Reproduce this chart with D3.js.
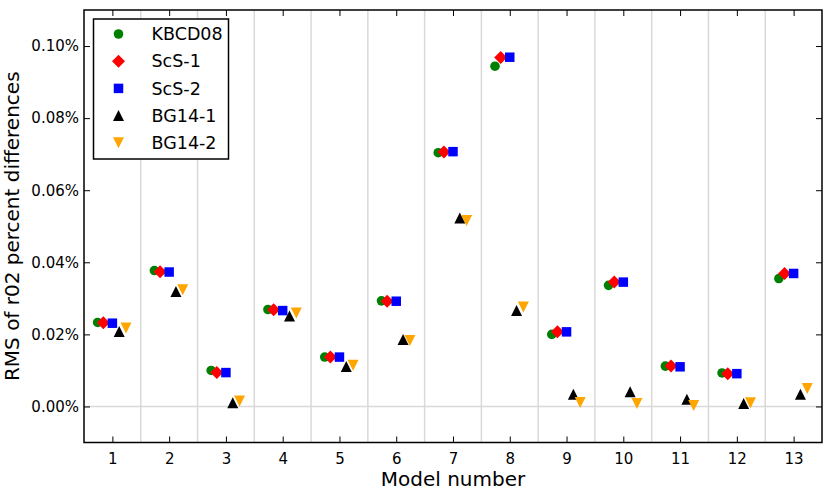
<!DOCTYPE html>
<html>
<head>
<meta charset="utf-8">
<script src="https://cdn.jsdelivr.net/npm/d3@7"></script>
<style>
  body { margin: 0; background: #fff; }
  text { font-family: "DejaVu Sans", sans-serif; }
</style>
</head>
<body>
<div id="chart"></div>
<script>
// Model numbers on the x axis
const models = [1, 2, 3, 4, 5, 6, 7, 8, 9, 10, 11, 12, 13];

// RMS of r02 percent differences (in %)
const kbcd08 = [0.0233, 0.0377, 0.0100, 0.0269, 0.0137, 0.0293, 0.0704, 0.0944, 0.0200, 0.0336, 0.0112, 0.0093, 0.0355];
const scs1   = [0.0232, 0.0374, 0.0094, 0.0268, 0.0137, 0.0292, 0.0706, 0.0968, 0.0207, 0.0345, 0.0112, 0.0091, 0.0369];
const scs2   = [0.0231, 0.0373, 0.0094, 0.0266, 0.0137, 0.0292, 0.0707, 0.0969, 0.0207, 0.0345, 0.0110, 0.0091, 0.0369];
const bg141  = [0.0208, 0.0319, 0.0010, 0.0251, 0.0111, 0.0186, 0.0523, 0.0266, 0.0034, 0.0041, 0.0020, 0.0008, 0.0034];
const bg142  = [0.0218, 0.0324, 0.0015, 0.0259, 0.0114, 0.0183, 0.0516, 0.0276, 0.0011, 0.0008, 0.0003, 0.0010, 0.0050];

const yTicks = [0.00, 0.02, 0.04, 0.06, 0.08, 0.10];

const series = [
  { name: 'KBCD08', values: kbcd08, color: 'green',  shape: 'circle',   offset: -0.26 },
  { name: 'ScS-1',  values: scs1,   color: 'red',    shape: 'diamond',  offset: -0.16 },
  { name: 'ScS-2',  values: scs2,   color: 'blue',   shape: 'square',   offset: 0 },
  { name: 'BG14-1', values: bg141,  color: 'black',  shape: 'triUp',    offset: 0.12 },
  { name: 'BG14-2', values: bg142,  color: 'orange', shape: 'triDown',  offset: 0.24 }
];

const width = 830, height = 492;
const margin = { top: 10, right: 8, bottom: 49.5, left: 84 };
const innerW = width - margin.left - margin.right;
const innerH = height - margin.top - margin.bottom;

const x = d3.scaleLinear().domain([0.5, 13.5]).range([0, innerW]);
const y = d3.scaleLinear().domain([-0.01, 0.11]).range([innerH, 0]);

const svg = d3.select('#chart')
  .append('svg')
  .attr('width', width)
  .attr('height', height);

const g = svg.append('g')
  .attr('transform', `translate(${margin.left},${margin.top})`);

// Separators between models
g.append('g')
  .selectAll('line')
  .data(models.slice(0, -1))
  .join('line')
  .attr('x1', d => x(d + 0.5))
  .attr('x2', d => x(d + 0.5))
  .attr('y1', 0)
  .attr('y2', innerH)
  .attr('stroke', '#d9d9d9')
  .attr('stroke-width', 1.5);

// Zero line
g.append('line')
  .attr('x1', 0)
  .attr('x2', innerW)
  .attr('y1', y(0))
  .attr('y2', y(0))
  .attr('stroke', '#d9d9d9')
  .attr('stroke-width', 1.5);

// Axes with inward ticks
const fmt = d => d.toFixed(2) + '%';

const xBottom = g.append('g')
  .attr('transform', `translate(0,${innerH})`)
  .call(d3.axisBottom(x).tickValues(models).tickSizeInner(-6).tickSizeOuter(0).tickPadding(11));
const xTop = g.append('g')
  .call(d3.axisTop(x).tickValues(models).tickSizeInner(-6).tickSizeOuter(0).tickFormat(''));
const yLeft = g.append('g')
  .call(d3.axisLeft(y).tickValues(yTicks).tickFormat(fmt).tickSizeInner(-6).tickSizeOuter(0).tickPadding(5));
const yRight = g.append('g')
  .attr('transform', `translate(${innerW},0)`)
  .call(d3.axisRight(y).tickValues(yTicks).tickSizeInner(-6).tickSizeOuter(0).tickFormat(''));

[xBottom, xTop, yLeft, yRight].forEach(a => {
  a.select('.domain').remove();
  a.selectAll('.tick line').attr('stroke', '#000').attr('stroke-width', 1);
  a.selectAll('.tick text')
    .attr('fill', '#000')
    .style('font-family', '"DejaVu Sans", sans-serif')
    .style('font-size', '15px');
});

// Frame
g.append('rect')
  .attr('width', innerW)
  .attr('height', innerH)
  .attr('fill', 'none')
  .attr('stroke', '#000')
  .attr('stroke-width', 1.5);

// Marker shapes
const symbolOf = shape => {
  switch (shape) {
    case 'circle': return d3.symbol(d3.symbolCircle, 72)();
    case 'square': return d3.symbol(d3.symbolSquare, 90)();
    case 'diamond': return 'M0,-6.5L6.5,0L0,6.5L-6.5,0Z';
    case 'triUp': return 'M0,-5.5L5.5,5.5L-5.5,5.5Z';
    case 'triDown': return 'M0,5.5L5.5,-5.5L-5.5,-5.5Z';
  }
};

series.forEach(s => {
  g.append('g')
    .selectAll('path')
    .data(s.values)
    .join('path')
    .attr('d', symbolOf(s.shape))
    .attr('transform', (d, i) => `translate(${x(models[i] + s.offset)},${y(d)})`)
    .attr('fill', s.color);
});

// Axis titles
svg.append('text')
  .attr('x', margin.left + innerW / 2)
  .attr('y', 486)
  .attr('text-anchor', 'middle')
  .style('font-size', '20px')
  .text('Model number');

svg.append('text')
  .attr('transform', `translate(19,${margin.top + innerH / 2}) rotate(-90)`)
  .attr('text-anchor', 'middle')
  .style('font-size', '20px')
  .text('RMS of r02 percent differences');

// Legend
const legend = svg.append('g').attr('transform', 'translate(93.5,19)');
legend.append('rect')
  .attr('width', 135)
  .attr('height', 140)
  .attr('fill', '#fff')
  .attr('stroke', '#000')
  .attr('stroke-width', 1.5);

const item = legend.selectAll('g.item')
  .data(series)
  .join('g')
  .attr('class', 'item')
  .attr('transform', (d, i) => `translate(0,${15 + i * 27.2})`);

item.append('path')
  .attr('d', d => symbolOf(d.shape))
  .attr('transform', 'translate(25,0)')
  .attr('fill', d => d.color);

item.append('text')
  .attr('x', 58)
  .attr('dy', '0.35em')
  .style('font-size', '17.5px')
  .text(d => d.name);
</script>
</body>
</html>
